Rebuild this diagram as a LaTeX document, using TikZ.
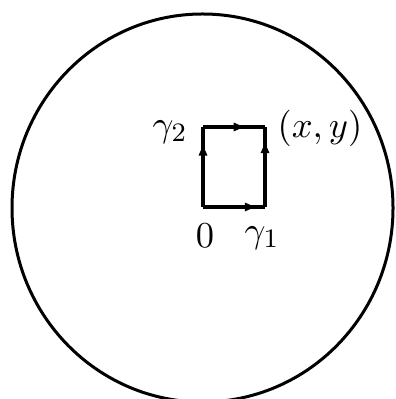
\documentclass[tikz,border=0pt]{standalone}
\usetikzlibrary{decorations.markings,arrows.meta}
\begin{document}
\begin{tikzpicture}[x=0.3pt,y=-0.3pt,
  edge/.style={line width=1pt},
  arr/.style={postaction={decorate},decoration={markings,mark=at position #1 with {\arrow{Latex[length=4pt,width=2.8pt]}}}},
  lab/.style={inner sep=0pt,font=\fontsize{11}{13}\selectfont}]
\useasboundingbox (0,0) rectangle (395,399);
\clip (0,0) rectangle (395,399);
\draw[line width=0.9pt] (202.5,208) ellipse [x radius=190.5, y radius=194];
\coordinate (O) at (203,207);
\coordinate (A) at (265,207);
\coordinate (B) at (265,127);
\coordinate (C) at (203,127);
\draw[edge,arr=0.89] (O) -- (A);
\draw[edge,arr=0.84] (A) -- (B);
\draw[edge,arr=0.81] (O) -- (C);
\draw[edge,arr=0.71] (C) -- (B);
\node[lab] (g2) at (170,132) {$\gamma_2$};
\node[lab] (xy) at (320,128) {$(x,y)$};
\node[lab] (zero) at (205,236) {$0$};
\node[lab] (g1) at (262,238) {$\gamma_1$};
\end{tikzpicture}
\end{document}
